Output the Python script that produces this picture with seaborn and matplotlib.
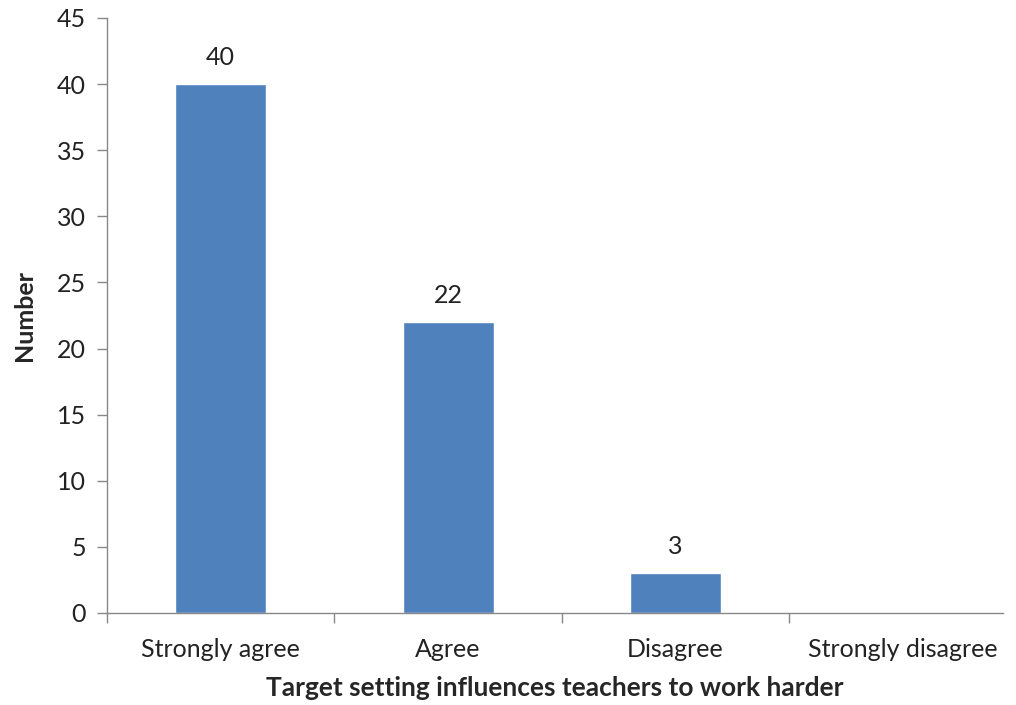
import matplotlib
matplotlib.use("Agg")
import matplotlib.pyplot as plt
import seaborn as sns
import pandas as pd

# ── Data ──
responses = ["Strongly agree", "Agree", "Disagree", "Strongly disagree"]
counts = [40, 22, 3, 0]
value_labels = ["40", "22", "3", ""]
y_ticks = [0, 5, 10, 15, 20, 25, 30, 35, 40, 45]

df = pd.DataFrame({"response": responses, "count": counts})

sns.set_style("white")
plt.rcParams['font.family'] = ['Lato', 'DejaVu Sans']

fig = plt.figure(figsize=(10.16, 7.05), dpi=100)
ax = fig.add_axes([0.1053, 0.1305, 0.882, 0.844])

sns.barplot(data=df, x="response", y="count", color="#4F81BD",
            width=0.40, saturation=1, ax=ax)

ax.bar_label(ax.containers[0], labels=value_labels, padding=11,
             fontsize=18, color="#222222")

# ── Axes ──
ax.set_ylim(0, 45)
ax.set_xlim(-0.5, 3.44)
ax.set_yticks(y_ticks)
ax.set_xticks(range(len(responses)))
ax.set_xticklabels(responses)
ax.set_xticks([-0.5, 0.5, 1.5, 2.5], minor=True)

ax.tick_params(axis="x", which="major", bottom=True, length=0, pad=18,
               labelsize=18, labelcolor="#222222")
ax.tick_params(axis="x", which="minor", bottom=True, length=7, width=1,
               color="#888888", direction="out")
ax.tick_params(axis="y", left=True, length=7, width=1, color="#888888",
               direction="out", labelsize=18, labelcolor="#222222", pad=8)

for side in ["top", "right"]:
    ax.spines[side].set_visible(False)
for side in ["left", "bottom"]:
    ax.spines[side].set_color("#888888")
    ax.spines[side].set_linewidth(1)

ax.set_xlabel("Target setting influences teachers to work harder",
              fontsize=19, fontweight="bold", labelpad=11)
ax.set_ylabel("Number", fontsize=18, fontweight="bold", labelpad=15)

fig.savefig("out.png", dpi=100)
